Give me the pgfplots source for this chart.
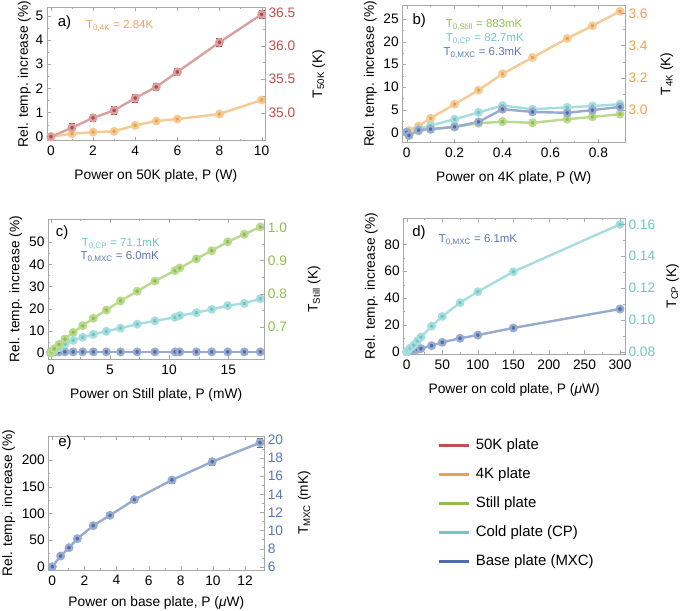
\documentclass[border=0pt]{standalone}
\usepackage{fontspec}
\setmainfont{Liberation Sans}
\usepackage{pgfplots}
\pgfplotsset{compat=1.18}

\definecolor{redL}{HTML}{D9A0A0}\definecolor{redM}{HTML}{B84747}\definecolor{redT}{HTML}{C0504F}
\definecolor{orL}{HTML}{F4CB92}\definecolor{orM}{HTML}{EBA353}
\definecolor{grL}{HTML}{B8D98E}\definecolor{grM}{HTML}{8EC04B}
\definecolor{cyL}{HTML}{A6DEDF}\definecolor{cyM}{HTML}{6FC7C9}
\definecolor{blL}{HTML}{97AACF}\definecolor{blM}{HTML}{4E6CA8}\definecolor{blT}{HTML}{5A77B0}
\definecolor{frame}{HTML}{A8A8A8}

\newcommand\tl{\fontsize{13.8}{16}\selectfont}
\newcommand\an{\fontsize{11.5}{13}\selectfont}
\newcommand\pl{\fontsize{15}{17}\selectfont}
\newcommand\legf{\fontsize{15}{17}\selectfont}

\pgfplotsset{
  panel/.style={scale only axis, anchor=south west,
    axis line style={frame}, tick style={frame}, tick align=inside,
    major tick length=4bp, minor tick length=2bp, minor tick num=1,
    ytick pos=left, xtick pos=both,
    tick label style={font=\tl}, label style={font=\tl},
    xticklabel style={yshift=-2bp},
    /pgf/number format/assume math mode=true,
    xlabel shift=7bp,
    ylabel={Rel. temp. increase (\%)}, clip=false},
  rightax/.style={scale only axis, anchor=south west,
    axis x line=none, axis y line*=right, xmin=0, xmax=1,
    axis line style={frame}, tick style={frame}, tick align=inside,
    major tick length=4bp, minor tick length=2bp, minor y tick num=1,
    tick label style={font=\tl}, label style={font=\tl},
    yticklabel style={color=#1},
    /pgf/number format/assume math mode=true},
  ser/.style 2 args={color=#1, line width=2.4bp, mark=*, mark size=3.2bp,
    mark options={draw=none, fill=#2}},
  eb/.style={error bars/.cd, y dir=both, y explicit,
    error bar style={color=#1, line width=0.8bp},
    error mark options={rotate=90, mark size=3bp, color=#1, line width=0.8bp}},
}

\begin{document}
\begin{tikzpicture}
\useasboundingbox (0,0) rectangle (685bp,611bp);

% ---------------- a)
\begin{axis}[panel, at={(46.7bp,470.3bp)}, width=218.3bp, height=133.4bp,
  xmin=-0.2, xmax=10.16, ymin=-0.166, ymax=5.36,
  xtick={0,2,...,10}, ytick={0,1,...,5}, ylabel shift=-2bp,
  xlabel={Power on 50K plate, P (W)}]
\addplot[ser={orL}{orM}, eb=orM] coordinates {
(0,0)+-(0,0) (1,0.12)+-(0,0.03) (2,0.19)+-(0,0.03) (3,0.22)+-(0,0.03) (4,0.47)+-(0,0.03)
(5,0.65)+-(0,0.03) (6,0.73)+-(0,0.03) (8,0.94)+-(0,0.04) (10,1.52)+-(0,0.1)};
\addplot[ser={redL}{redM}, eb=redM] coordinates {
(0,0)+-(0,0) (1,0.37)+-(0,0.16) (2,0.78)+-(0,0.16) (3,1.09)+-(0,0.16) (4,1.60)+-(0,0.16)
(5,2.06)+-(0,0.16) (6,2.68)+-(0,0.16) (8,3.91)+-(0,0.16) (10,5.07)+-(0,0.16)};
\node[anchor=west, font=\pl] at (rel axis cs:0.035,0.882) {a)};
\node[anchor=west, font=\an, text=orM] at (rel axis cs:0.165,0.86) {T\textsubscript{0,4K} = 2.84K};
\end{axis}
\begin{axis}[rightax=redT, at={(46.7bp,470.3bp)}, width=218.3bp, height=133.4bp,
  ymin=34.58, ymax=36.575, ytick={35,35.5,36,36.5},
  yticklabel style={/pgf/number format/.cd, fixed, fixed zerofill, precision=1},
  ylabel shift=10bp,
  ylabel={T\textsubscript{50K} (K)}]
\end{axis}

% ---------------- b)
\begin{axis}[panel, at={(402.3bp,468.3bp)}, width=222.7bp, height=137.7bp,
  xmin=-0.018, xmax=0.911, ymin=-2.29, ymax=28.09,
  xtick={0,0.2,...,0.8}, ytick={0,5,...,25},
  xlabel={Power on 4K plate, P (W)}]
\addplot[ser={orL}{orM}] coordinates {
(0.01,0.4) (0.05,1.4) (0.1,3.1) (0.2,6.2) (0.3,9.3) (0.4,12.9) (0.525,16.5) (0.67,20.7) (0.775,23.5) (0.89,26.7)};
\addplot[ser={grL}{grM}] coordinates {
(0,0) (0.05,0.3) (0.1,0.65) (0.2,1.2) (0.3,2.0) (0.4,2.35) (0.525,2.1) (0.67,2.9) (0.775,3.4) (0.89,4.0)};
\addplot[ser={cyL}{cyM}] coordinates {
(0,0) (0.05,0.7) (0.1,1.5) (0.2,2.9) (0.3,4.4) (0.4,5.9) (0.525,5.1) (0.67,5.5) (0.775,5.8) (0.89,6.2)};
\addplot[ser={blL}{blM}] coordinates {
(0,0) (0.01,-0.7) (0.05,0.5) (0.1,0.7) (0.2,1.2) (0.3,2.3) (0.4,5.1) (0.525,4.5) (0.67,4.3) (0.775,4.9) (0.89,5.6)};
\node[anchor=west, font=\pl] at (rel axis cs:0.03,0.884) {b)};
\node[anchor=west, font=\an, text=grM] at (rel axis cs:0.18,0.855) {T\textsubscript{0,Still} = 883mK};
\node[anchor=west, font=\an, text=cyM] at (rel axis cs:0.18,0.753) {T\textsubscript{0,CP} = 82.7mK};
\node[anchor=west, font=\an, text=blT] at (rel axis cs:0.17,0.651) {T\textsubscript{0,MXC} = 6.3mK};
\end{axis}
\begin{axis}[rightax=orM, at={(402.3bp,468.3bp)}, width=222.7bp, height=137.7bp,
  ymin=2.797, ymax=3.652, ytick={3.0,3.2,3.4,3.6},
  yticklabel style={/pgf/number format/.cd, fixed, fixed zerofill, precision=1},
  ylabel shift=6bp,
  ylabel={T\textsubscript{4K} (K)}]
\end{axis}

% ---------------- c)
\begin{axis}[panel, at={(48bp,251.7bp)}, width=216.3bp, height=140.3bp,
  xmin=-0.23, xmax=18.04, ymin=-2.85, ymax=60.5,
  xtick={0,5,10,15}, ytick={0,10,...,50},
  xlabel={Power on Still plate, P (mW)}]
\addplot[ser={blL}{blM}] coordinates {
(0,0.5) (0.1,0.5) (0.3,0.5) (0.7,0.5) (1.2,0.5) (1.9,0.5) (2.7,0.5) (3.6,0.5) (4.7,0.5) (5.9,0.5)
(7.3,0.5) (8.8,0.5) (10.5,0.5) (10.9,0.5) (12.3,0.5) (13.6,0.5) (14.95,0.5) (16.35,0.5) (17.7,0.5)};
\addplot[ser={cyL}{cyM}] coordinates {
(0,0) (0.1,0.4) (0.3,1.2) (0.7,2.4) (1.2,4.1) (1.9,5.7) (2.7,7.1) (3.6,8.4) (4.7,9.8) (5.9,11.2)
(7.3,13.0) (8.8,14.5) (10.5,16.1) (10.9,16.9) (12.3,18.2) (13.6,19.7) (14.95,21.4) (16.35,22.4) (17.7,24.5)};
\addplot[ser={grL}{grM}] coordinates {
(0,0) (0.1,0.6) (0.3,1.9) (0.7,3.9) (1.2,6.3) (1.9,9.3) (2.7,12.3) (3.6,15.7) (4.7,19.4) (5.9,23.5)
(7.3,27.9) (8.8,32.5) (10.5,37.2) (10.9,38.4) (12.3,42.5) (13.6,46.2) (14.95,50.2) (16.35,53.6) (17.7,56.9)};
\node[anchor=west, font=\pl] at (rel axis cs:0.02,0.90) {c)};
\node[anchor=west, font=\an, text=cyM] at (rel axis cs:0.14,0.822) {T\textsubscript{0,CP} = 71.1mK};
\node[anchor=west, font=\an, text=blT] at (rel axis cs:0.135,0.729) {T\textsubscript{0,MXC} = 6.0mK};
\end{axis}
\begin{axis}[rightax=grM, at={(48bp,251.7bp)}, width=216.3bp, height=140.3bp,
  ymin=0.601, ymax=1.026, ytick={0.7,0.8,0.9,1.0},
  yticklabel style={/pgf/number format/.cd, fixed, fixed zerofill, precision=1},
  ylabel shift=14bp,
  ylabel={T\textsubscript{Still} (K)}]
\end{axis}

% ---------------- d)
\begin{axis}[panel, at={(403.3bp,257bp)}, width=221.7bp, height=135.7bp,
  xmin=-4.8, xmax=307, ymin=-1.7, ymax=99.4,
  xtick={0,50,...,300}, ytick={0,20,...,80},
  xlabel={Power on cold plate, P (\textit{μ}W)}]
\addplot[ser={blL}{blM}] coordinates {
(0,0) (2,0.3) (5,0.8) (10,1.3) (15,1.8) (20,2.3) (35,4.5) (50,7.0) (75,10.0) (100,12.4) (150,17.7) (300,31.8)};
\addplot[ser={cyL}{cyM}] coordinates {
(0,0) (2,1.2) (5,2.8) (10,5.0) (15,8.0) (20,10.9) (35,19.1) (50,26.3) (75,36.5) (100,44.7) (150,59.6) (300,94.9)};
\node[anchor=west, font=\pl] at (rel axis cs:0.025,0.892) {d)};
\node[anchor=west, font=\an, text=blT] at (rel axis cs:0.145,0.84) {T\textsubscript{0,MXC} = 6.1mK};
\end{axis}
\begin{axis}[rightax=cyM, at={(403.3bp,257bp)}, width=221.7bp, height=135.7bp,
  ymin=0.0786, ymax=0.1638, ytick={0.08,0.10,0.12,0.14,0.16},
  yticklabel style={/pgf/number format/.cd, fixed, fixed zerofill, precision=2},
  ylabel shift=4bp,
  ylabel={T\textsubscript{CP} (K)}]
\end{axis}

% ---------------- e)
\begin{axis}[panel, at={(48.3bp,41bp)}, width=216bp, height=134bp,
  xmin=-0.25, xmax=13.2, ymin=-6.2, ymax=245,
  xtick={0,2,...,12}, ytick={0,50,...,200}, xlabel shift=4bp,
  xlabel={Power on base plate, P (\textit{μ}W)}]
\addplot[ser={blL}{blM}, eb=blM] coordinates {
(0,0)+-(0,2) (0.52,20)+-(0,3) (1.04,35.6)+-(0,3) (1.56,52.5)+-(0,3.5) (2.55,76.9)+-(0,4)
(3.59,96.3)+-(0,4.5) (5.11,125.6)+-(0,5) (7.45,162.5)+-(0,5.6) (9.96,196.8)+-(0,6.3) (12.93,232.4)+-(0,8)};
\node[anchor=west, font=\pl] at (rel axis cs:0.03,0.948) {e)};
\end{axis}
\begin{axis}[rightax=blT, at={(48.3bp,41bp)}, width=216bp, height=134bp,
  ymin=5.64, ymax=20.44, ytick={6,8,...,20},
  ylabel shift=8bp,
  ylabel={T\textsubscript{MXC} (mK)}]
\end{axis}

% ---------------- legend
\begin{axis}[hide axis, scale only axis, width=1bp, height=1bp,
  at={(437bp,174bp)}, anchor=north west,
  xmin=0, xmax=1, ymin=0, ymax=1,
  legend style={at={(0,1)}, anchor=north west, draw=none, fill=none,
    inner sep=0pt, row sep=12.5bp, font=\legf,
    nodes={inner sep=1bp, text height=11bp, text depth=3.5bp},
    /tikz/every odd column/.append style={column sep=5bp}},
  legend cell align=left,
  legend image code/.code={\draw[#1, line width=2.6bp] (0bp,0bp) -- (30bp,0bp);}]
\addlegendimage{color=redT}\addlegendentry{50K plate}
\addlegendimage{color=orM}\addlegendentry{4K plate}
\addlegendimage{color=grM}\addlegendentry{Still plate}
\addlegendimage{color=cyM}\addlegendentry{Cold plate (CP)}
\addlegendimage{color=blM}\addlegendentry{Base plate (MXC)}
\end{axis}
\end{tikzpicture}
\end{document}
